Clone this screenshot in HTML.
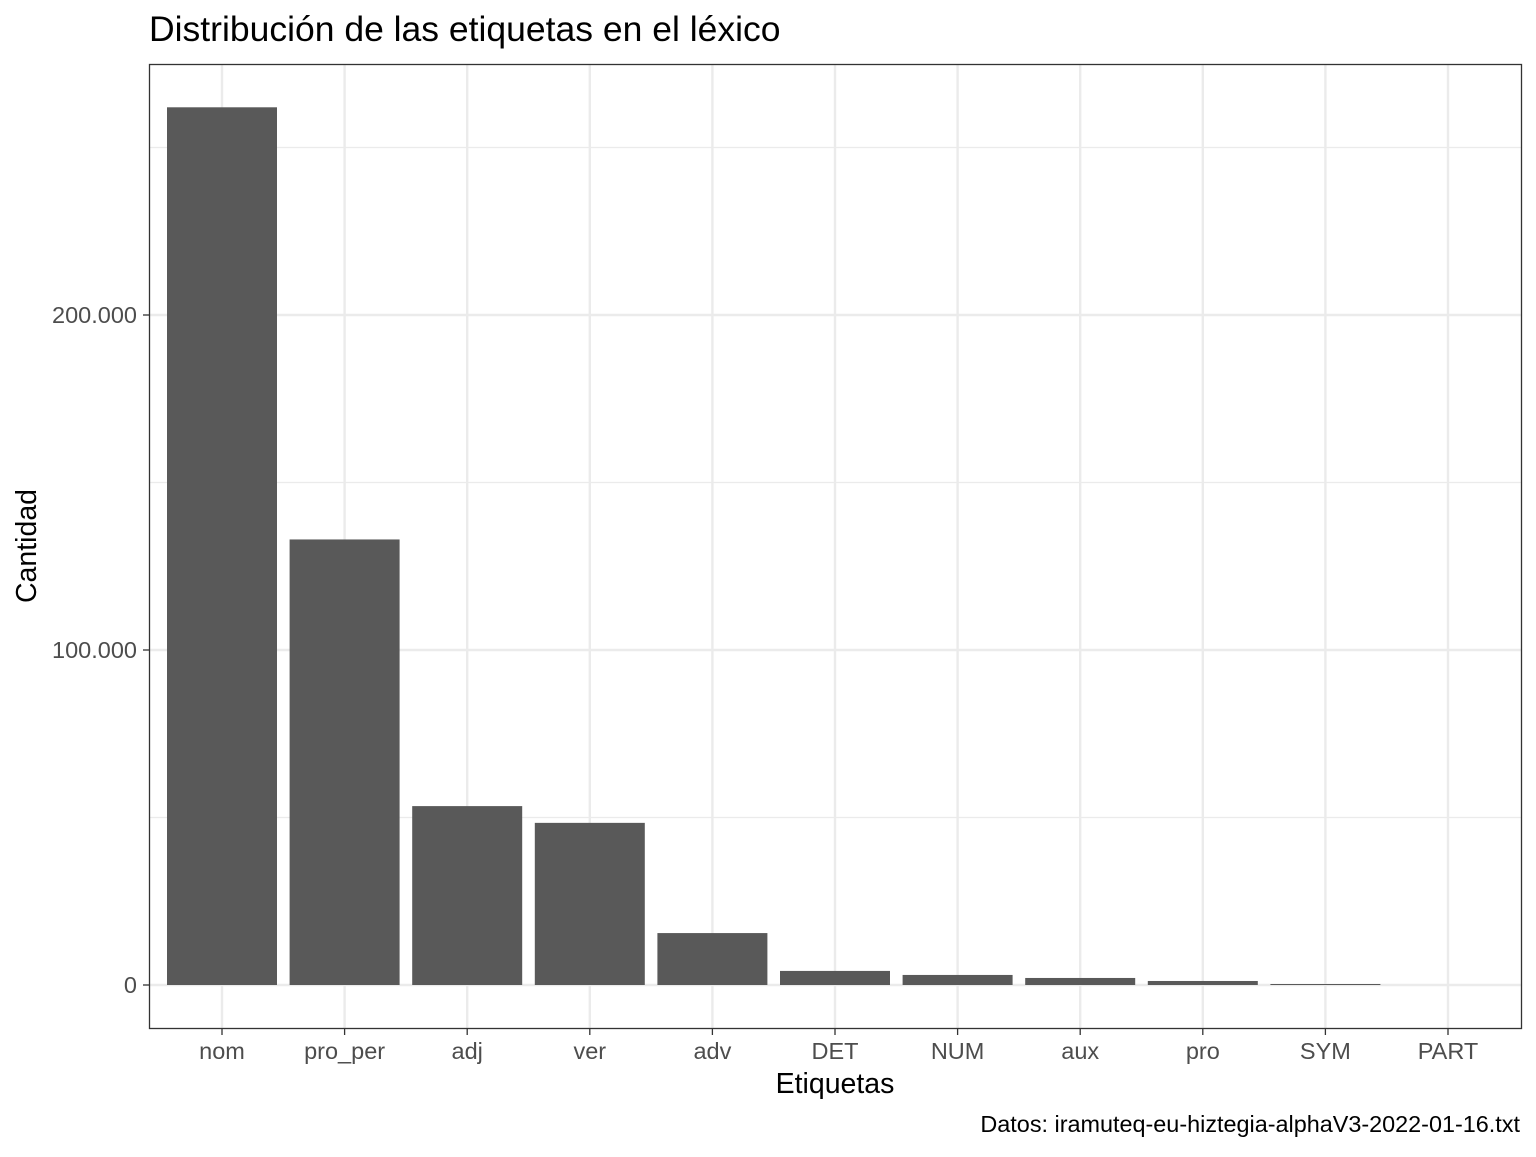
<!DOCTYPE html>
<html><head><meta charset="utf-8"><style>
body{margin:0;background:#fff;font-family:"Liberation Sans",sans-serif;}
svg text{font-family:"Liberation Sans",sans-serif;}
</style></head><body>
<svg id="chart" width="1536" height="1152" xmlns="http://www.w3.org/2000/svg">
<rect width="1536" height="1152" fill="#fff"/>
<text x="149" y="41" font-size="35.5" fill="#000">Distribución de las etiquetas en el léxico</text>
<g id="grid"></g>
<g id="bars"></g>
<rect x="149.5" y="64.5" width="1372" height="964" fill="none" stroke="#333" stroke-width="1.3"/>
<g id="axes"></g>
<text x="835" y="1093" font-size="28.5" text-anchor="middle" fill="#000">Etiquetas</text>
<text transform="translate(36,546) rotate(-90)" font-size="28.5" text-anchor="middle" fill="#000">Cantidad</text>
<text x="1520" y="1132" font-size="23.4" text-anchor="end" fill="#000">Datos: iramuteq-eu-hiztegia-alphaV3-2022-01-16.txt</text>
</svg>
<script>
const categories=["nom","pro_per","adj","ver","adv","DET","NUM","aux","pro","SYM","PART"];
const values=[262000,133000,53400,48400,15500,4200,3000,2100,1200,300,0];
const yTicks=[0,100000,200000];
const yTickLabels=["0","100.000","200.000"];
const yMinor=[50000,150000,250000];
const NS="http://www.w3.org/2000/svg";
const y0=985, pxPer=335/100000;
function y(v){return y0-v*pxPer;}
const x0=222, step=122.6, bw=110;
function x(i){return x0+i*step;}
const grid=document.getElementById('grid'),bars=document.getElementById('bars'),axes=document.getElementById('axes');
function mk(tag,attrs,parent){const e=document.createElementNS(NS,tag);for(const k in attrs)e.setAttribute(k,attrs[k]);parent.appendChild(e);return e;}
yMinor.forEach(v=>{const l=mk('line',{x1:150,x2:1521,y1:y(v),y2:y(v),stroke:'#ebebeb','stroke-width':1.2},grid);

});
yTicks.forEach((v,i)=>{const l=mk('line',{x1:150,x2:1521,y1:y(v),y2:y(v),stroke:'#ebebeb','stroke-width':2.4},grid);


const t=mk('line',{x1:143,x2:149,y1:y(v),y2:y(v),stroke:'#333','stroke-width':1.3},axes);


const tx=mk('text',{x:137,y:y(v)+8,'font-size':23.5,'text-anchor':'end',fill:'#4d4d4d'},axes);tx.textContent=yTickLabels[i];

});
categories.forEach((c,i)=>{const g=mk('line',{x1:x(i),x2:x(i),y1:65,y2:1028,stroke:'#ebebeb','stroke-width':2.4},grid);


const h=y0-y(values[i]);
if(h>0){const r=mk('rect',{x:x(i)-bw/2,y:y(values[i]),width:bw,height:Math.max(h,1),fill:'#595959'},bars);

}
const t=mk('line',{x1:x(i),x2:x(i),y1:1029,y2:1035,stroke:'#333','stroke-width':1.3},axes);


const tx=mk('text',{x:x(i),y:1059,'font-size':23.5,'text-anchor':'middle',fill:'#4d4d4d'},axes);tx.textContent=c;

});
</script>
</body></html>
